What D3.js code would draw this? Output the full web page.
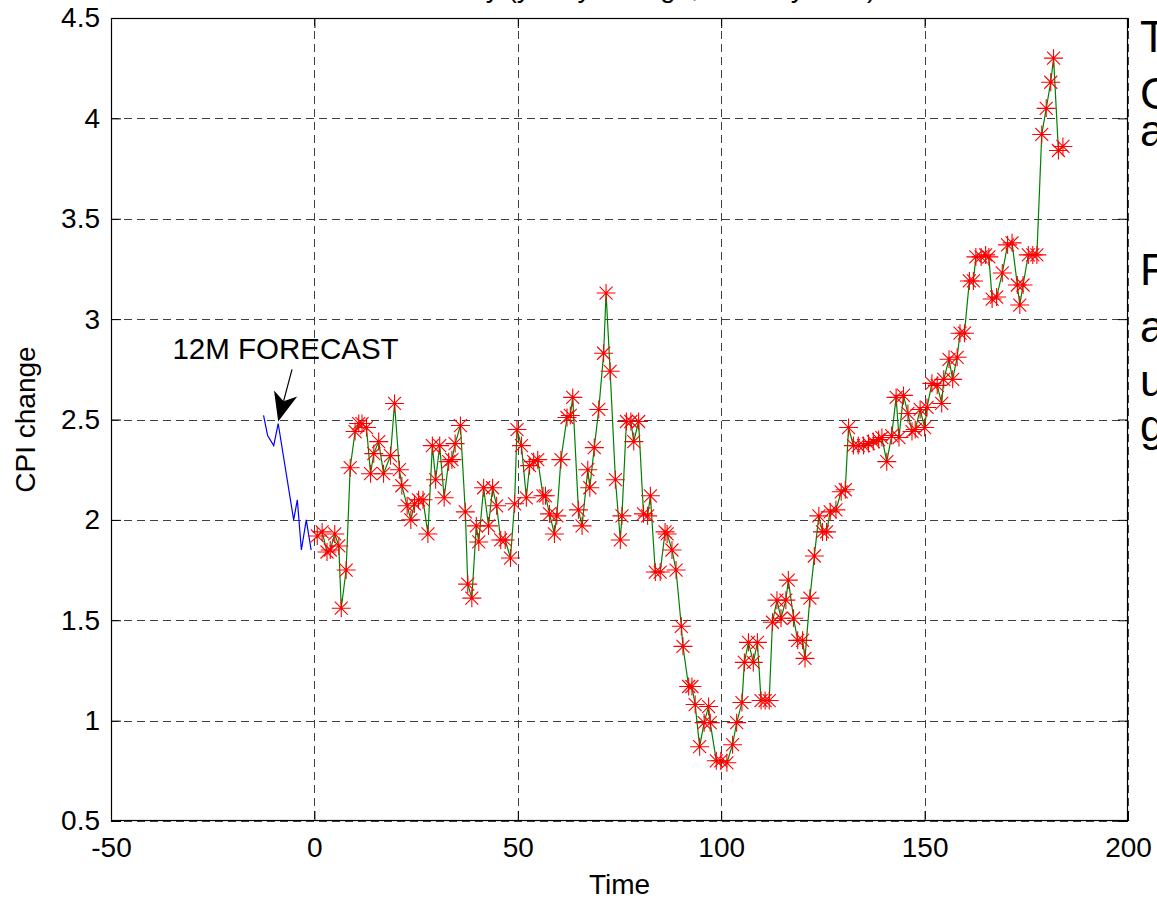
<!DOCTYPE html>
<html>
<head>
<meta charset="utf-8">
<script src="https://cdn.jsdelivr.net/npm/d3@7"></script>
<style>
  html, body { margin: 0; padding: 0; background: #fff; overflow: hidden; }
  svg { display: block; }
  text { font-family: "Liberation Sans", Arial, Helvetica, sans-serif; }
</style>
</head>
<body>
<svg id="chart" width="1157" height="899"></svg>
<script>
'use strict';

// ---- data ----

const cpiTime = [
  0.7, 1.9, 3.1, 3.9, 5.0, 6.0, 6.6, 7.8, 8.8, 10.0,
  10.9, 11.7, 12.8, 13.8, 14.6, 15.8, 17.0, 18.7, 19.7, 20.9,
  21.5, 22.8, 23.7, 24.6, 25.6, 26.7, 27.9, 29.0, 29.8, 30.8,
  31.9, 33.0, 33.8, 34.6, 35.9, 37.1, 37.7, 38.7, 39.8, 40.4,
  41.6, 42.8, 43.8, 44.8, 45.8, 46.9, 48.2, 49.2, 49.8, 50.9,
  52.1, 52.9, 53.9, 54.9, 56.2, 56.8, 57.8, 59.0, 59.6, 60.6,
  62.1, 62.9, 63.5, 64.9, 65.8, 67.2, 67.7, 68.8, 69.9, 71.1,
  71.7, 72.7, 74.0, 75.2, 75.6, 76.7, 77.8, 78.5, 79.7, 80.9,
  81.9, 82.6, 83.8, 85.0, 86.2, 86.7, 87.9, 88.9, 90.2, 90.6,
  92.0, 92.8, 93.6, 94.7, 95.8, 96.9, 97.3, 98.8, 99.9, 101.4,
  102.8, 103.8, 105.1, 105.7, 106.7, 107.9, 108.9, 109.8, 110.8, 111.8,
  112.6, 113.7, 114.7, 115.9, 116.5, 117.8, 118.8, 120.0, 120.6, 121.8,
  122.9, 124.0, 124.9, 125.9, 126.8, 128.2, 129.5, 130.5, 131.3, 132.5,
  133.7, 135.0, 136.2, 137.4, 138.7, 139.5, 140.7, 141.9, 143.0, 143.7,
  144.8, 145.9, 146.9, 147.7, 148.9, 150.0, 150.6, 151.8, 153.1, 154.2,
  154.7, 156.0, 156.9, 158.0, 158.7, 159.8, 161.0, 162.0, 162.6, 163.9,
  165.0, 165.8, 166.6, 167.7, 169.1, 170.4, 171.5, 172.8, 173.4, 174.2,
  175.5, 176.6, 177.6, 178.8, 179.9, 181.0, 181.7, 182.9, 184.0
];

const cpiChange = [
  1.92, 1.94, 1.84, 1.85, 1.93, 1.87, 1.56, 1.75, 2.26, 2.44,
  2.48, 2.48, 2.46, 2.23, 2.33, 2.39, 2.23, 2.32, 2.58, 2.25,
  2.17, 2.07, 2.00, 2.08, 2.10, 2.10, 1.93, 2.37, 2.20, 2.37,
  2.11, 2.29, 2.30, 2.38, 2.47, 2.04, 1.68, 1.61, 1.97, 1.89,
  2.16, 1.97, 2.16, 2.07, 1.90, 1.90, 1.81, 2.08, 2.45, 2.37,
  2.11, 2.27, 2.29, 2.30, 2.12, 2.12, 2.03, 1.93, 2.02, 2.30,
  2.51, 2.52, 2.61, 2.05, 1.97, 2.25, 2.16, 2.36, 2.55, 2.83,
  3.13, 2.74, 2.20, 1.90, 2.02, 2.49, 2.49, 2.39, 2.49, 2.03,
  2.02, 2.12, 1.74, 1.74, 1.94, 1.93, 1.85, 1.75, 1.47, 1.37,
  1.17, 1.17, 1.08, 0.87, 0.99, 1.07, 0.99, 0.80, 0.80, 0.79,
  0.88, 0.99, 1.09, 1.29, 1.39, 1.29, 1.39, 1.10, 1.10, 1.10,
  1.49, 1.60, 1.51, 1.60, 1.70, 1.51, 1.40, 1.40, 1.31, 1.61,
  1.82, 2.02, 1.94, 1.94, 2.04, 2.05, 2.14, 2.15, 2.46, 2.37,
  2.37, 2.37, 2.38, 2.39, 2.40, 2.41, 2.29, 2.42, 2.61, 2.41,
  2.62, 2.53, 2.44, 2.45, 2.55, 2.46, 2.56, 2.68, 2.67, 2.58,
  2.70, 2.80, 2.70, 2.81, 2.93, 2.93, 3.19, 3.19, 3.31, 3.31,
  3.32, 3.31, 3.10, 3.11, 3.23, 3.37, 3.38, 3.17, 3.07, 3.17,
  3.32, 3.32, 3.32, 3.92, 4.05, 4.18, 4.30, 3.84, 3.86
];

// 12 month forecast (blue line, left of t = 0)
const forecastTime = [-12.5, -11.5, -10.0, -8.9, -5.1, -4.2, -3.2, -2.0, -0.8];
const forecastChange = [2.52, 2.42, 2.37, 2.48, 2.00, 2.10, 1.85, 2.00, 1.85];

const xTicks = [-50, 0, 50, 100, 150, 200];
const yTicks = [0.5, 1, 1.5, 2, 2.5, 3, 3.5, 4, 4.5];
const xDomain = [-50, 200];
const yDomain = [0.5, 4.5];

const titleText = 'CPI history (yearly change, monthly data)';
const xLabel = 'Time';
const yLabel = 'CPI change';
const noteText = '12M FORECAST';
// note baseline start and arrow tail / tip, in data units
const noteAt = [-34.9, 2.80];
const arrowFrom = [-5.5, 2.75];
const arrowTo = [-8.9, 2.49];

// slide text peeking in at the right edge
const sideLines = ['T', 'C', 'a', 'F', 'a', 'u', 'g'];
const sideBaselines = [52, 109, 146, 285, 342, 396, 441];

// ---- layout ----

const margin = { left: 111, right: 1128, top: 18, bottom: 821 };
const svg = d3.select('#chart');

svg.append('rect')
    .attr('width', 1157)
    .attr('height', 899)
    .attr('fill', '#fff');

const x = d3.scaleLinear(xDomain, [margin.left, margin.right]);
const y = d3.scaleLinear(yDomain, [margin.bottom, margin.top]);

// title sits above the window, only descenders peek in
svg.append('text')
    .attr('x', (margin.left + margin.right) / 2)
    .attr('y', -3)
    .attr('text-anchor', 'middle')
    .attr('font-size', 28)
    .text(titleText);

// side text
svg.append('g')
    .selectAll('text')
    .data(sideLines)
    .join('text')
    .attr('x', 1140)
    .attr('y', (d, i) => sideBaselines[i])
    .attr('font-family', '"DejaVu Sans", Verdana, sans-serif')
    .attr('font-size', 44)
    .attr('fill', '#000')
    .text(d => d);

// plot background
svg.append('rect')
    .attr('x', margin.left)
    .attr('y', margin.top)
    .attr('width', margin.right - margin.left)
    .attr('height', margin.bottom - margin.top)
    .attr('fill', '#fff');

// grid
const grid = svg.append('g')
    .attr('stroke', '#404040')
    .attr('stroke-width', 1)
    .attr('stroke-dasharray', '8,5');

grid.selectAll('.gx')
    .data(xTicks)
    .join('line')
    .attr('class', 'gx')
    .attr('x1', d => Math.round(x(d)) + 0.5)
    .attr('x2', d => Math.round(x(d)) + 0.5)
    .attr('y1', margin.top)
    .attr('y2', margin.bottom);

grid.selectAll('.gy')
    .data(yTicks)
    .join('line')
    .attr('class', 'gy')
    .attr('y1', d => Math.round(y(d)) + 0.5)
    .attr('y2', d => Math.round(y(d)) + 0.5)
    .attr('x1', margin.left)
    .attr('x2', margin.right);

// forecast line
const forecast = forecastTime.map((t, i) => [t, forecastChange[i]]);
svg.append('path')
    .datum(forecast)
    .attr('fill', 'none')
    .attr('stroke', '#0000ff')
    .attr('stroke-width', 1.2)
    .attr('d', d3.line().x(d => x(d[0])).y(d => y(d[1])));

// history line + asterisk markers
const history = cpiTime.map((t, i) => [t, cpiChange[i]]);
svg.append('path')
    .datum(history)
    .attr('fill', 'none')
    .attr('stroke', '#008000')
    .attr('stroke-width', 1.2)
    .attr('d', d3.line().x(d => x(d[0])).y(d => y(d[1])));

const star = 'M-9.5,0H9.5M0,-9V9M-6.5,-6.5L6.5,6.5M-6.5,6.5L6.5,-6.5';
svg.append('g')
    .selectAll('path')
    .data(history)
    .join('path')
    .attr('transform', d => `translate(${x(d[0])},${y(d[1])})`)
    .attr('d', star)
    .attr('fill', 'none')
    .attr('stroke', '#ff0000')
    .attr('stroke-width', 1.1);

// annotation
svg.append('text')
    .attr('x', x(noteAt[0]))
    .attr('y', y(noteAt[1]))
    .attr('font-size', 29.5)
    .text(noteText);

(function drawArrow() {
    const x0 = x(arrowFrom[0]), y0 = y(arrowFrom[1]);
    const x1 = x(arrowTo[0]), y1 = y(arrowTo[1]);
    const ang = Math.atan2(y1 - y0, x1 - x0);
    const len = 29, half = 12, back = 21;
    const ux = Math.cos(ang), uy = Math.sin(ang);
    const px = -uy, py = ux;
    const bx = x1 - ux * len, by = y1 - uy * len;
    const nx = x1 - ux * back, ny = y1 - uy * back;
    svg.append('line')
        .attr('x1', x0).attr('y1', y0)
        .attr('x2', nx).attr('y2', ny)
        .attr('stroke', '#000')
        .attr('stroke-width', 1.2);
    svg.append('path')
        .attr('d', `M${x1},${y1}L${bx + px * half},${by + py * half}L${nx},${ny}L${bx - px * half},${by - py * half}Z`)
        .attr('fill', '#000');
})();

// axes (ticks inside, like the original)
function styleAxis(g) {
    g.select('.domain').remove();
    g.selectAll('.tick line').attr('stroke', '#000');
    g.selectAll('.tick text')
        .attr('fill', '#000')
        .attr('font-size', 28)
        .attr('font-family', '"Liberation Sans", Arial, sans-serif');
}

const plain = d => String(d);

svg.append('g')
    .attr('transform', `translate(0,${margin.bottom})`)
    .call(d3.axisBottom(x).tickValues(xTicks).tickSize(-10).tickPadding(16).tickFormat(plain))
    .call(styleAxis);

svg.append('g')
    .attr('transform', `translate(0,${margin.top})`)
    .call(d3.axisTop(x).tickValues(xTicks).tickSize(-10).tickFormat(''))
    .call(styleAxis);

svg.append('g')
    .attr('transform', `translate(${margin.left},0)`)
    .call(d3.axisLeft(y).tickValues(yTicks).tickSize(-10).tickPadding(11).tickFormat(plain))
    .call(styleAxis);

svg.append('g')
    .attr('transform', `translate(${margin.right},0)`)
    .call(d3.axisRight(y).tickValues(yTicks).tickSize(-10).tickFormat(''))
    .call(styleAxis);

// frame
svg.append('rect')
    .attr('x', margin.left + 0.5)
    .attr('y', margin.top + 0.5)
    .attr('width', margin.right - margin.left - 1)
    .attr('height', margin.bottom - margin.top - 1)
    .attr('fill', 'none')
    .attr('stroke', '#000')
    .attr('stroke-width', 1.2);

// axis labels
svg.append('text')
    .attr('x', (margin.left + margin.right) / 2)
    .attr('y', 894)
    .attr('text-anchor', 'middle')
    .attr('font-size', 28)
    .text(xLabel);

svg.append('text')
    .attr('transform', `translate(35,${(margin.top + margin.bottom) / 2}) rotate(-90)`)
    .attr('text-anchor', 'middle')
    .attr('font-size', 28)
    .text(yLabel);
</script>
</body>
</html>
